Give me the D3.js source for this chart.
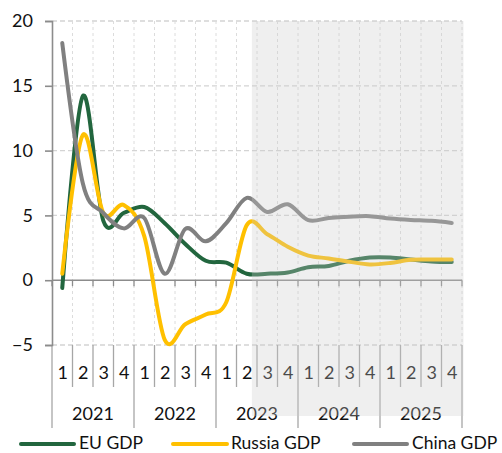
<!DOCTYPE html>
<html>
<head>
<meta charset="utf-8">
<script src="https://cdn.jsdelivr.net/npm/d3@7/dist/d3.min.js"></script>
<style>
  html, body { margin: 0; padding: 0; background: #fff; }
  svg { display: block; font-family: Lato, "Open Sans", sans-serif; }
</style>
</head>
<body>
<svg id="chart" width="502" height="453"></svg>
<script>
// Quarterly GDP growth, % y/y
const years = ["2021", "2022", "2023", "2024", "2025"];
const quarters = ["1", "2", "3", "4"];
const euGdp = [-0.6, 14.2, 4.6, 5.2, 5.65, 4.4, 2.8, 1.5, 1.35, 0.5, 0.5, 0.6, 1.0, 1.1, 1.5, 1.75, 1.75, 1.6, 1.45, 1.4];
const russiaGdp = [0.5, 11.2, 5.2, 5.8, 3.4, -4.6, -3.4, -2.65, -1.7, 4.25, 3.55, 2.58, 1.9, 1.68, 1.43, 1.22, 1.33, 1.58, 1.6, 1.6];
const chinaGdp = [18.3, 7.5, 5.2, 4.0, 4.8, 0.5, 3.95, 3.0, 4.4, 6.35, 5.27, 5.86, 4.63, 4.8, 4.9, 4.94, 4.76, 4.65, 4.58, 4.42];
const yTicks = [-5, 0, 5, 10, 15, 20];
const forecastFrom = "2023-2"; // shaded forecast period begins inside this quarter

const series = [
  { name: "EU GDP", values: euGdp, color: "#22663e" },
  { name: "Russia GDP", values: russiaGdp, color: "#ffc000" },
  { name: "China GDP", values: chinaGdp, color: "#808080" }
];

// one category per quarter
const cats = [];
years.forEach(y => quarters.forEach(q => cats.push(y + "-" + q)));

const svg = d3.select("#chart");
const x = d3.scaleBand().domain(cats).range([52, 462]).padding(0);
const y = d3.scaleLinear().domain([-5, 20]).range([345, 21]);
const bw = x.bandwidth();
const boundaries = cats.map(c => x(c)).concat([x.range()[1]]);

// horizontal gridlines
svg.append("g").selectAll("line")
  .data(yTicks.filter(t => t !== 0))
  .join("line")
  .attr("x1", x.range()[0]).attr("x2", x.range()[1])
  .attr("y1", d => y(d)).attr("y2", d => y(d))
  .attr("stroke", "#d4d4d4").attr("stroke-width", 1.3)
  .attr("stroke-dasharray", "5,3");

// vertical gridlines at quarter boundaries
svg.append("g").selectAll("line")
  .data(boundaries.slice(1))
  .join("line")
  .attr("x1", d => d).attr("x2", d => d)
  .attr("y1", y(20)).attr("y2", y(-5))
  .attr("stroke", "#dcdcdc").attr("stroke-width", 1)
  .attr("stroke-dasharray", "3,3");

// category axis separators below the plot
svg.append("g").selectAll("line")
  .data(boundaries.map((b, i) => ({ b, i })))
  .join("line")
  .attr("x1", d => d.b).attr("x2", d => d.b)
  .attr("y1", y(-5))
  .attr("y2", d => d.i % 4 === 0 ? 428 : 387)
  .attr("stroke", "#a6a6a6").attr("stroke-width", 1.3);

// value axis
const yAxis = d3.axisLeft(y).tickValues(yTicks).tickSize(7).tickPadding(12).tickFormat(d3.format("d"));
const ya = svg.append("g").attr("transform", `translate(${x.range()[0]},0)`).call(yAxis);
ya.select(".domain").attr("stroke", "#8c8c8c").attr("stroke-width", 1.6);
ya.selectAll(".tick line").attr("stroke", "#8c8c8c").attr("stroke-width", 1.6);
ya.selectAll(".tick text").attr("font-size", 18).attr("fill", "#111")
  .attr("font-family", "Lato, 'Open Sans', sans-serif");

// zero line with ticks at quarter boundaries
svg.append("line")
  .attr("x1", x.range()[0]).attr("x2", x.range()[1])
  .attr("y1", y(0)).attr("y2", y(0))
  .attr("stroke", "#8c8c8c").attr("stroke-width", 1.6);
svg.append("g").selectAll("line")
  .data(boundaries)
  .join("line")
  .attr("x1", d => d).attr("x2", d => d)
  .attr("y1", y(0)).attr("y2", y(0) + 6)
  .attr("stroke", "#8c8c8c").attr("stroke-width", 1.3);

// quarter and year labels
svg.append("g").selectAll("text")
  .data(cats)
  .join("text")
  .attr("x", d => x(d) + bw / 2 + 0.5)
  .attr("y", 379)
  .attr("text-anchor", "middle")
  .attr("font-size", 18).attr("fill", "#111")
  .text(d => d.split("-")[1]);
svg.append("g").selectAll("text")
  .data(years)
  .join("text")
  .attr("x", d => (x(d + "-1") + x(d + "-4") + bw) / 2)
  .attr("y", 420)
  .attr("text-anchor", "middle")
  .attr("font-size", 18).attr("fill", "#111")
  .text(d => d);

// smoothed series lines
const line = d3.line()
  .x((d, i) => x(cats[i]) + bw / 2)
  .y(d => y(d))
  .curve(d3.curveCardinal.tension(0));
svg.append("g").selectAll("path")
  .data(series)
  .join("path")
  .attr("d", d => line(d.values))
  .attr("fill", "none")
  .attr("stroke", d => d.color)
  .attr("stroke-width", 4)
  .attr("stroke-linecap", "round")
  .attr("stroke-linejoin", "round");

// translucent overlay marking the forecast period
svg.append("rect")
  .attr("x", x(forecastFrom) + bw * 0.75)
  .attr("y", y(20))
  .attr("width", x.range()[1] + 1.5 - (x(forecastFrom) + bw * 0.75))
  .attr("height", 416 - y(20))
  .attr("fill", "rgb(204,204,204)")
  .attr("fill-opacity", 0.31);

// legend
const legendPos = [
  { x1: 21, x2: 74, tx: 79 },
  { x1: 173, x2: 227, tx: 231 },
  { x1: 354, x2: 407, tx: 412 }
];
const lg = svg.append("g").selectAll("g")
  .data(series)
  .join("g");
lg.append("line")
  .attr("x1", (d, i) => legendPos[i].x1).attr("x2", (d, i) => legendPos[i].x2)
  .attr("y1", 444).attr("y2", 444)
  .attr("stroke", d => d.color).attr("stroke-width", 4)
  .attr("stroke-linecap", "round");
lg.append("text")
  .attr("x", (d, i) => legendPos[i].tx)
  .attr("y", 449)
  .attr("font-size", 17.5).attr("fill", "#111")
  .text(d => d.name);
</script>
</body>
</html>
